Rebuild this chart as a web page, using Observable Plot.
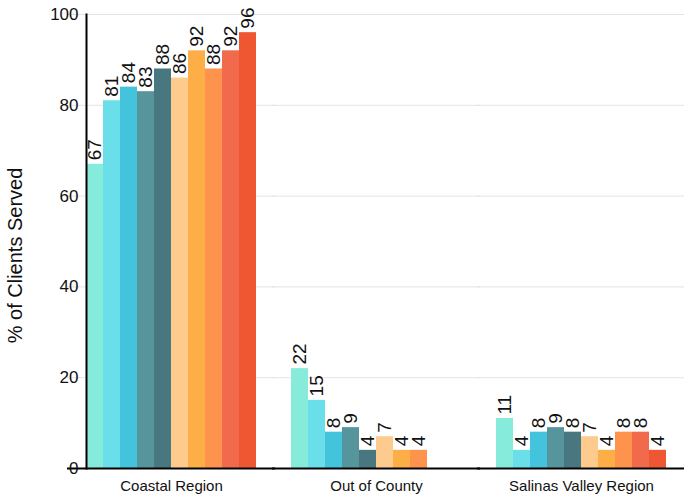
<!DOCTYPE html>
<html>
<head>
<meta charset="utf-8">
<script src="https://cdn.jsdelivr.net/npm/d3@7"></script>
<script src="https://cdn.jsdelivr.net/npm/@observablehq/plot@0.6"></script>
<style>
  html, body { margin: 0; padding: 0; background: #fff; }
</style>
</head>
<body>
<div id="chart"></div>
<script>
const regions = ["Coastal Region", "Out of County", "Salinas Valley Region"];
const series = ["Series 1", "Series 2", "Series 3", "Series 4", "Series 5",
                "Series 6", "Series 7", "Series 8", "Series 9", "Series 10"];
const colors = ["#86ebda", "#6bdfe9", "#43c3dc", "#56959c", "#48777f",
                "#fecb8e", "#feae47", "#fe934e", "#f26a4c", "#ef5733"];
const coastalValues = [67, 81, 84, 83, 88, 86, 92, 88, 92, 96];
const outOfCountyValues = [22, 15, 8, 9, 4, 7, 4, 4, null, null];
const salinasValues = [11, 4, 8, 9, 8, 7, 4, 8, 8, 4];
const yTicks = [0, 20, 40, 60, 80, 100];
const yLabel = "% of Clients Served";

const valuesByRegion = [coastalValues, outOfCountyValues, salinasValues];
const data = [];
regions.forEach((r, i) => {
  valuesByRegion[i].forEach((v, j) => {
    if (v != null) data.push({region: r, series: series[j], value: v});
  });
});

const font = "'Liberation Sans', Arial, sans-serif";

const chart = Plot.plot({
  width: 684,
  height: 499,
  marginLeft: 68,
  marginRight: 0,
  marginTop: 14,
  marginBottom: 31,
  style: {fontFamily: font, fontSize: "16px", color: "#111", background: "#fff"},
  fx: {domain: regions, paddingInner: 0.173, paddingOuter: 0.086, label: null},
  x: {domain: series, padding: 0, axis: null},
  y: {domain: [0, 100], axis: null},
  color: {domain: series, range: colors},
  marks: [
    Plot.ruleY(yTicks.filter(d => d > 0), {stroke: "#e4e4e4", strokeWidth: 1, insetLeft: -19, insetRight: -19}),
    Plot.barY(data, {fx: "region", x: "series", y: "value", fill: "series", inset: 0}),
    Plot.text(data, {
      fx: "region", x: "series", y: "value", text: d => String(d.value),
      rotate: -90, textAnchor: "start", dy: -4, fontSize: 19, fill: "#111"
    }),
    Plot.ruleY([0], {stroke: "#000", strokeWidth: 2, insetLeft: -19, insetRight: -19}),
    Plot.frame({anchor: "left", stroke: "#000", strokeWidth: 2, facet: "super"}),
    Plot.axisY({ticks: yTicks, tickSize: 0, tickPadding: 8, label: null, fontSize: 17}),
    Plot.axisFx({anchor: "bottom", tickSize: 0, tickPadding: 12, label: null, fontSize: 15}),
    Plot.text([yLabel], {frameAnchor: "left", textAnchor: "middle", rotate: -90, dx: -71, dy: 14, fontSize: 20, fill: "#111", facet: "super"})
  ]
});

document.getElementById("chart").appendChild(chart);
</script>
</body>
</html>
